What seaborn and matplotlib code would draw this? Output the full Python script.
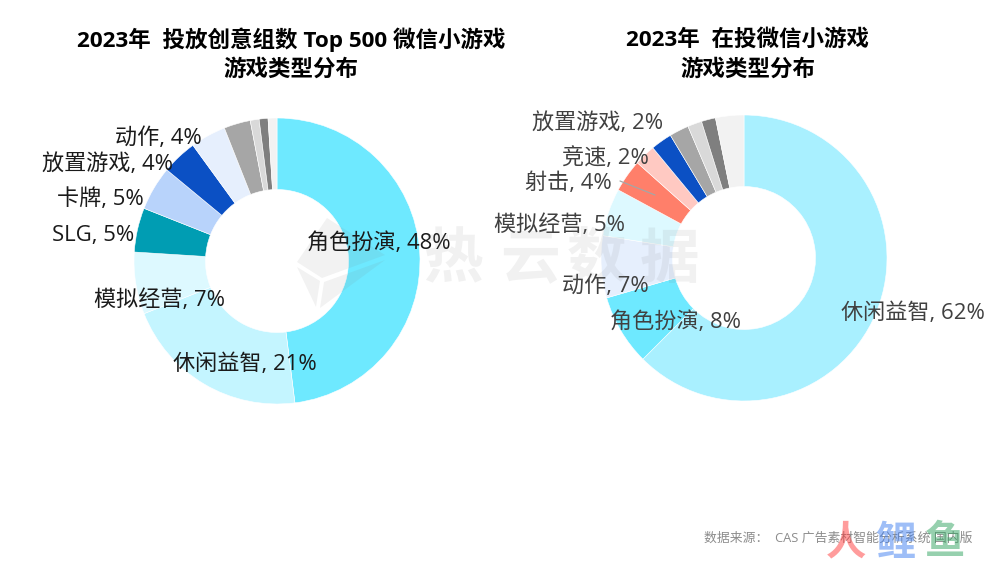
import matplotlib
matplotlib.use("Agg")
import matplotlib.pyplot as plt
from matplotlib.patches import Polygon
import seaborn as sns

sns.set_theme(style="white")
plt.rcParams['font.family'] = ['Open Sans', 'Noto Sans CJK SC', 'DejaVu Sans']

# ---------- data ----------
left_names = ["角色扮演", "休闲益智", "模拟经营", "SLG", "卡牌", "放置游戏", "动作", "其他1", "其他2", "其他3", "其他4"]
left_values = [48, 21, 7, 5, 5, 4, 4, 3, 1, 1, 1]
left_colors = ["#6EE9FF", "#C4F5FF", "#DDF9FF", "#009DB3", "#B8D3FB", "#0B50C4",
               "#E6EFFD", "#A6A6A6", "#D9D9D9", "#7F7F7F", "#F2F2F2"]

right_names = ["休闲益智", "角色扮演", "动作", "模拟经营", "射击", "竞速", "放置游戏", "其他1", "其他2", "其他3", "其他4"]
right_values = [62.5, 8, 7, 5.4, 3.7, 2.4, 2.4, 2.2, 1.6, 1.6, 3.2]
right_colors = ["#A9F0FF", "#6EE9FF", "#E6EFFD", "#DDF9FF", "#FF7F6A", "#FFC9C2",
                "#0B50C4", "#A6A6A6", "#D9D9D9", "#7F7F7F", "#F2F2F2"]

left_labels = ["角色扮演, 48%", "休闲益智, 21%", "模拟经营, 7%", "SLG, 5%", "卡牌, 5%", "放置游戏, 4%", "动作, 4%"]
right_labels = ["休闲益智, 62%", "角色扮演, 8%", "动作, 7%", "模拟经营, 5%", "射击, 4%", "竞速, 2%", "放置游戏, 2%"]

left_title = ["2023年  投放创意组数 Top 500 微信小游戏", "游戏类型分布"]
right_title = ["2023年  在投微信小游戏", "游戏类型分布"]
source = "数据来源：  CAS 广告素材智能分析系统 国内版"

# ---------- layout (pixels) ----------
W, H = 992, 567
R = 143
left_center = (277, 261)
right_center = (744, 258)
left_label_pos = [(379, 243), (245, 364), (160, 300), (93, 235), (100, 199), (108, 164), (158, 138)]
right_label_pos = [(913, 313), (675, 322), (605, 286), (560, 225), (568, 183), (605, 158), (598, 123)]

fig = plt.figure(figsize=(W / 100, H / 100), dpi=100, facecolor="white")


def donut(center, values, colors):
    cx, cy = center
    ax = fig.add_axes([(cx - R) / W, 1 - (cy + R) / H, 2 * R / W, 2 * R / H])
    ax.pie(values, colors=sns.color_palette(colors), startangle=90, counterclock=False,
           radius=1, wedgeprops=dict(width=0.5, edgecolor="white", linewidth=0.4))
    ax.set_xlim(-1, 1)
    ax.set_ylim(-1, 1)
    ax.set_axis_off()


donut(left_center, left_values, left_colors)
donut(right_center, right_values, right_colors)

# overlay in pixel coordinates for text and watermarks
ov = fig.add_axes([0, 0, 1, 1], facecolor="none")
ov.set_xlim(0, W)
ov.set_ylim(H, 0)
ov.set_axis_off()

for txt, (x, y) in zip(left_labels, left_label_pos):
    ov.text(x, y, txt, fontsize=15.9, color="#1a1a1a", ha="center", va="center")
for txt, (x, y) in zip(right_labels, right_label_pos):
    ov.text(x, y, txt, fontsize=15.9, color="#404040", ha="center", va="center")
ov.plot([620, 655], [181, 195], color="#a6a6a6", lw=0.9)

for line, y in zip(left_title, (40, 70)):
    ov.text(291, y, line, fontsize=16.2, fontweight="bold", color="black", ha="center", va="center")
for line, y in zip(right_title, (40, 70)):
    ov.text(748, y, line, fontsize=16.2, fontweight="bold", color="black", ha="center", va="center")

ov.text(972, 538, source, fontsize=9.25, color="#8c8c8c", ha="right", va="center")

# 热云数据 watermark
for ch, x in zip("热云数据", (453, 530, 597, 670)):
    ov.text(x, 262, ch, fontsize=43, fontweight="bold", color="#808080", alpha=0.11, ha="center", va="center")
for pts in ([(297, 262), (327, 218), (385, 255), (322, 278)],
            [(297, 267), (320, 281), (316, 307)],
            [(324, 282), (385, 260), (320, 308)]):
    ov.add_patch(Polygon(pts, closed=True, facecolor="#808080", edgecolor="none", alpha=0.10))

# 鲤鱼 watermark
for ch, x, c in (("人", 846, "#FF3B3B"), ("鲤", 895, "#3F7FF0"), ("鱼", 945, "#2FA35F")):
    ov.text(x, 544, ch, fontsize=29, fontweight="bold", color=c, alpha=0.5, ha="center", va="center")

fig.savefig("out.png", dpi=100)
